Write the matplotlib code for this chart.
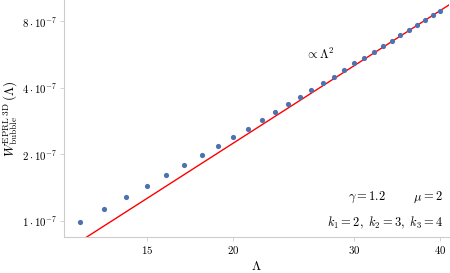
import matplotlib
matplotlib.use("Agg")
import matplotlib.pyplot as plt
from matplotlib.ticker import FixedLocator, NullLocator

plt.rcParams['mathtext.fontset'] = 'cm'
plt.rcParams['font.family'] = 'serif'

lam = list(range(12, 41))
w_bubble = [0.99e-7, 1.126e-7, 1.277e-7, 1.438e-7, 1.605e-7, 1.788e-7, 1.98e-7,
            2.175e-7, 2.38e-7, 2.61e-7, 2.85e-7, 3.10e-7, 3.36e-7, 3.63e-7,
            3.92e-7, 4.22e-7, 4.49e-7, 4.81e-7, 5.17e-7, 5.48e-7, 5.84e-7,
            6.20e-7, 6.55e-7, 6.93e-7, 7.31e-7, 7.72e-7, 8.14e-7, 8.53e-7, 8.95e-7]
fit_coeff = 5.6e-10
fit_lam = [11.0, 42.0]
fit_w = [fit_coeff * x ** 2 for x in fit_lam]

x_ticks = [15, 20, 30, 40]
y_ticks = [1e-7, 2e-7, 4e-7, 8e-7]
y_tick_labels = [r'$1\cdot10^{-7}$', r'$2\cdot10^{-7}$', r'$4\cdot10^{-7}$', r'$8\cdot10^{-7}$']

fig = plt.figure(figsize=(4.5, 2.73), dpi=100)
ax = fig.add_axes([0.142, 0.131, 0.856, 0.869])

ax.plot(fit_lam, fit_w, color='#ff0000', lw=1.0, zorder=2)
ax.scatter(lam, w_bubble, s=14, color='#4c72b0', zorder=3, linewidths=0)

ax.set_xscale('log')
ax.set_yscale('log')
ax.set_xlim(11.36, 41.2)
ax.set_ylim(8.4e-8, 1.0e-6)

ax.xaxis.set_major_locator(FixedLocator(x_ticks))
ax.xaxis.set_minor_locator(NullLocator())
ax.set_xticklabels([r'$%d$' % t for t in x_ticks])
ax.yaxis.set_major_locator(FixedLocator(y_ticks))
ax.yaxis.set_minor_locator(NullLocator())
ax.set_yticklabels(y_tick_labels)

for s in ['top', 'right']:
    ax.spines[s].set_visible(False)
for s in ['left', 'bottom']:
    ax.spines[s].set_color('#cccccc')
    ax.spines[s].set_linewidth(0.8)
ax.tick_params(axis='both', which='major', length=3, width=0.6, color='#cccccc',
               labelsize=7.8, pad=2)

ax.set_xlabel(r'$\Lambda$', fontsize=9.5, labelpad=3)
ax.set_ylabel(r'$W^{\rm EPRL\ 3D}_{\rm bubble}\,(\Lambda)$', fontsize=9.5, labelpad=1)

ax.text(26.7, 5.64e-7, r'$\propto\Lambda^2$', fontsize=9, ha='center', va='center')
ax.text(0.985, 0.17, r'$\gamma=1.2\qquad\ \ \mu=2$', transform=ax.transAxes,
        ha='right', va='center', fontsize=9)
ax.text(0.985, 0.06, r'$k_1=2,\ k_2=3,\ k_3=4$', transform=ax.transAxes,
        ha='right', va='center', fontsize=9)

fig.savefig('out.png', dpi=100)
